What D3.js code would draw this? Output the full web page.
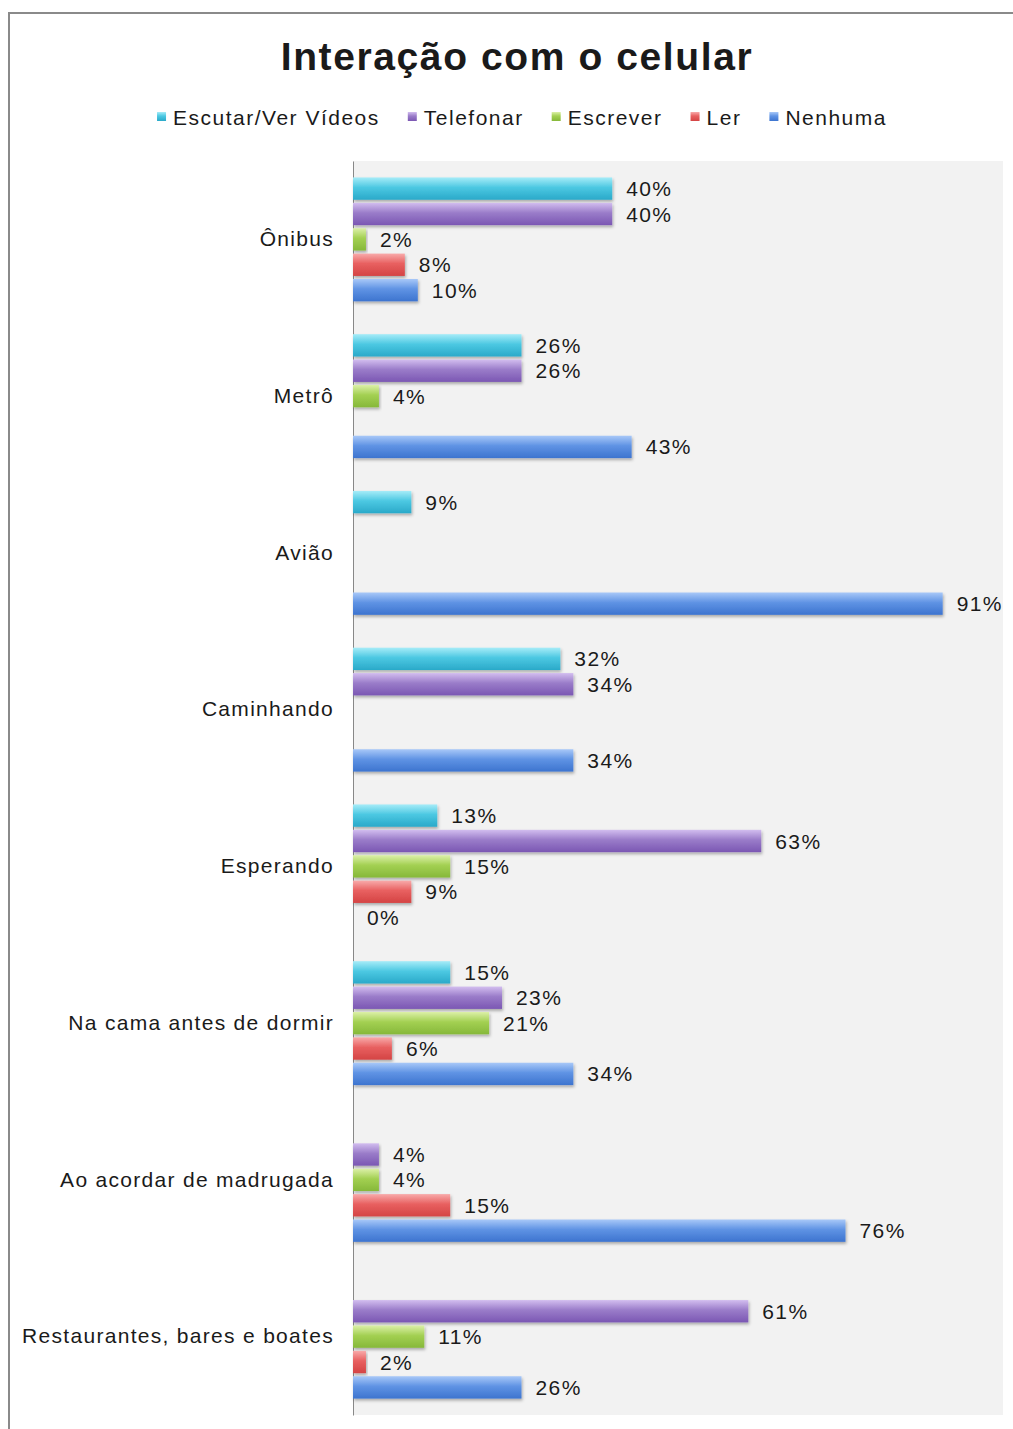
<!DOCTYPE html>
<html>
<head>
<meta charset="utf-8">
<script src="https://cdn.jsdelivr.net/npm/d3@7"></script>
<style>
  body { margin: 0; background: #fff; }
  text { font-family: "Liberation Sans", Arial, sans-serif; fill: #1a1a1a; }
</style>
</head>
<body>
<div id="chart"></div>
<script>
// dados do gráfico
var categorias = ["Ônibus", "Metrô", "Avião", "Caminhando", "Esperando",
  "Na cama antes de dormir", "Ao acordar de madrugada", "Restaurantes, bares e boates"];
var series = ["Escutar/Ver Vídeos", "Telefonar", "Escrever", "Ler", "Nenhuma"];
var escutar   = [40, 26, 9, 32, 13, 15, null, null];
var telefonar = [40, 26, null, 34, 63, 23, 4, 61];
var escrever  = [2, 4, null, null, 15, 21, 4, 11];
var ler       = [8, null, null, null, 9, 6, 15, 2];
var nenhuma   = [10, 43, 91, 34, 0, 34, 76, 26];
var valores = [escutar, telefonar, escrever, ler, nenhuma];

// cores (claro, médio, escuro) de cada série
var cores = [
  ["#a6ecf8", "#4cc8e2", "#2aa9c9"],
  ["#d2bdef", "#9a7cc9", "#7b57b3"],
  ["#dcf0a8", "#a3d052", "#86b83a"],
  ["#f8aaaa", "#e86060", "#d44444"],
  ["#a8c8f8", "#5f93e4", "#3d74cf"]
];

var W = 1013, H = 1429;
var plot = { left: 353, right: 1001, top: 161, bottom: 1415 };

var svg = d3.select("#chart").append("svg")
  .attr("width", W).attr("height", H);

var defs = svg.append("defs");
cores.forEach(function(c, i) {
  var g = defs.append("linearGradient")
    .attr("id", "grad" + i)
    .attr("x1", 0).attr("y1", 0).attr("x2", 0).attr("y2", 1);
  g.append("stop").attr("offset", "0%").attr("stop-color", c[0]);
  g.append("stop").attr("offset", "45%").attr("stop-color", c[1]);
  g.append("stop").attr("offset", "100%").attr("stop-color", c[2]);
});
var sombra = defs.append("filter").attr("id", "sombra")
  .attr("x", "-5%").attr("y", "-30%").attr("width", "115%").attr("height", "180%");
sombra.append("feDropShadow")
  .attr("dx", 1).attr("dy", 2).attr("stdDeviation", 1.5)
  .attr("flood-color", "#000").attr("flood-opacity", 0.3);

// borda do gráfico
svg.append("path")
  .attr("d", "M9," + H + "V13H" + W)
  .attr("fill", "none").attr("stroke", "#8a8a8a").attr("stroke-width", 2);

// fundo da área de plotagem
svg.append("rect")
  .attr("x", plot.left).attr("y", plot.top)
  .attr("width", 1003 - plot.left).attr("height", plot.bottom - plot.top)
  .attr("fill", "#f2f2f2");

// escalas
var x = d3.scaleLinear().domain([0, 100]).range([plot.left, plot.right]);
var y = d3.scaleBand().domain(categorias).range([plot.top, plot.bottom]);
var bw = y.bandwidth();
var ys = d3.scaleBand().domain(series)
  .range([bw / 2 - 65, bw / 2 + 65]).padding(0.12);

// eixo das categorias
var eixo = svg.append("g")
  .attr("transform", "translate(" + plot.left + ",0)")
  .call(d3.axisLeft(y).tickSize(0).tickPadding(19));
eixo.select(".domain").attr("stroke", "#888");
eixo.selectAll("text")
  .style("font-size", "21px")
  .style("letter-spacing", "1.3px")
  .attr("fill", "#1a1a1a");

// barras
var dados = [];
categorias.forEach(function(cat, ci) {
  series.forEach(function(s, si) {
    var v = valores[si][ci];
    if (v !== null) dados.push({ cat: cat, serie: s, si: si, valor: v });
  });
});

var grupo = svg.append("g");
grupo.selectAll("rect")
  .data(dados.filter(function(d) { return d.valor > 0; }))
  .enter()
  .append("rect")
  .attr("x", x(0))
  .attr("y", function(d) { return y(d.cat) + ys(d.serie); })
  .attr("width", function(d) { return x(d.valor) - x(0); })
  .attr("height", ys.bandwidth())
  .attr("fill", function(d) { return "url(#grad" + d.si + ")"; })
  .attr("filter", "url(#sombra)");

// rótulos de valor
grupo.selectAll("text")
  .data(dados)
  .enter()
  .append("text")
  .attr("x", function(d) { return x(d.valor) + 14; })
  .attr("y", function(d) { return y(d.cat) + ys(d.serie) + ys.bandwidth() / 2; })
  .attr("dy", "0.36em")
  .style("font-size", "21px")
  .style("letter-spacing", "1.4px")
  .text(function(d) { return d.valor + "%"; });

// título
svg.append("text")
  .attr("x", 517).attr("y", 70)
  .attr("text-anchor", "middle")
  .style("font-size", "39px")
  .style("font-weight", "bold")
  .style("letter-spacing", "1.6px")
  .attr("fill", "#000")
  .text("Interação com o celular");

// legenda
var leg = svg.append("g");
var lx = 0;
series.forEach(function(s, i) {
  var it = leg.append("g").attr("transform", "translate(" + lx + ",0)");
  it.append("rect")
    .attr("x", 0).attr("y", -5).attr("width", 9).attr("height", 9)
    .attr("fill", "url(#grad" + i + ")");
  var t = it.append("text")
    .attr("x", 16).attr("dy", "0.36em")
    .style("font-size", "21px")
    .style("letter-spacing", "1.5px")
    .text(s);
  lx += 16 + t.node().getComputedTextLength() + 28;
});
var larg = lx - 28;
leg.attr("transform", "translate(" + (522 - larg / 2) + ",117)");
</script>
</body>
</html>
